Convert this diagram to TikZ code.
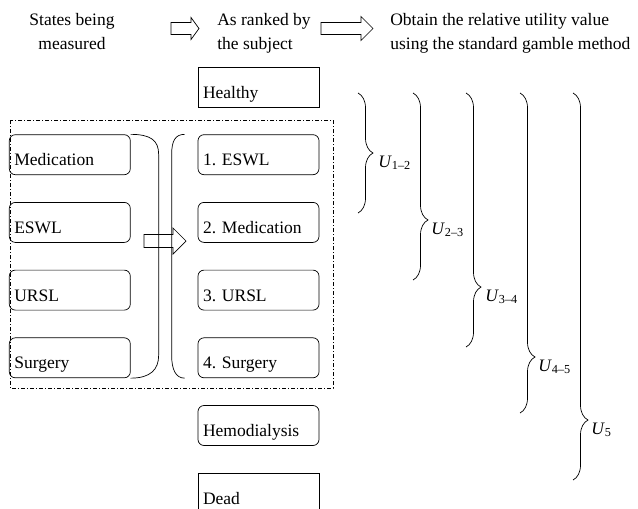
\documentclass[tikz,border=0pt]{standalone}
\usepackage{fontspec}
\setmainfont{Liberation Serif}
\usetikzlibrary{positioning,calc,decorations.pathreplacing}
\frenchspacing
\tikzset{
    statebox/.style={
        draw,
        rounded corners=6pt,
        minimum width=121pt,
        minimum height=40pt,
        text width=111pt,
        inner xsep=5pt,
        inner ysep=0pt,
        text height=31pt,
        text depth=9pt,
        align=left
    },
    endbox/.style={
        statebox,
        sharp corners
    },
    heading/.style={
        inner sep=0pt,
        anchor=north west,
        align=left
    },
    fatarrow/.style={
        draw,
        line join=miter
    },
    utilbrace/.style={
        decorate,
        decoration={brace, amplitude=15pt, aspect=#1}
    },
    ulabel/.style={
        anchor=base west,
        inner sep=0pt
    }
}

\begin{document}
\begin{tikzpicture}[
        x=1pt, y=-1pt,
        font=\fontsize{17.5}{24}\selectfont,
        line width=0.7pt,
        node distance=27pt
    ]
    \useasboundingbox (0,0) rectangle (638,509);

    % headings
    \node[heading, anchor=north, align=center] (measured) at (72,13) {States being\\measured};
    \node[heading] (ranked) at (217,13) {As ranked by\\the subject};
    \node[heading] (gamble) at (390,13) {Obtain the relative utility value\\using the standard gamble method};

    \draw[fatarrow] (171,22.5) -- (191,22.5) -- (191,17.5) -- (199,28.5) -- (191,39.5) -- (191,34.5) -- (171,34.5) -- cycle;
    \draw[fatarrow] (321,22.5) -- (361,22.5) -- (361,16.5) -- (373,28.5) -- (361,40.5) -- (361,34.5) -- (321,34.5) -- cycle;

    % ranked states
    \node[endbox] (healthy) at (258.5,87) {Healthy};
    \node[statebox, below=of healthy] (r1) {1. ESWL};
    \node[statebox, below=of r1] (r2) {2. Medication};
    \node[statebox, below=of r2] (r3) {3. URSL};
    \node[statebox, below=of r3] (r4) {4. Surgery};
    \node[statebox, below=of r4] (hemo) {Hemodialysis};
    \node[endbox, below=of hemo] (dead) {Dead};

    % states being measured
    \node[statebox, left=67pt of r1] (lmed) {Medication};
    \node[statebox, below=of lmed] (leswl) {ESWL};
    \node[statebox, below=of leswl] (lursl) {URSL};
    \node[statebox, below=of lursl] (lsurg) {Surgery};

    \draw[dash pattern=on 4pt off 2pt on 1pt off 2pt, line width=0.5pt] (10,120) rectangle (333,388);

    \draw (lmed.north east) .. controls +(20,0) and +(0,-14) .. ++(28,20) -- ++(0,201)
        .. controls +(0,14) and +(20,0) .. (lsurg.south east);
    \draw ($(r1.north west)+(-13,0)$) .. controls +(-9,0) and +(0,-14) .. ++(-13,20) -- ++(0,201)
        .. controls +(0,14) and +(-9,0) .. ($(r4.south west)+(-13,0)$);

    \draw[fatarrow] (144,234.5) -- (173,234.5) -- (173,228) -- (186,241) -- (173,254) -- (173,247.5) -- (144,247.5) -- cycle;

    % utilities
    \draw[utilbrace=0.5] (358,93) -- (358,213);
    \draw[utilbrace=0.679] (413,93) -- (413,280);
    \draw[utilbrace=0.764] (466,93) -- (466,347);
    \draw[utilbrace=0.825] (520,93) -- (520,413);
    \draw[utilbrace=0.845] (573,93) -- (573,480);

    \node[ulabel] (u12) at (378,167) {\textit{U}\textsubscript{1–2}};
    \node[ulabel] (u23) at (431,234) {\textit{U}\textsubscript{2–3}};
    \node[ulabel] (u34) at (485,301) {\textit{U}\textsubscript{3–4}};
    \node[ulabel] (u45) at (538,371) {\textit{U}\textsubscript{4–5}};
    \node[ulabel] (u5) at (591,434) {\textit{U}\textsubscript{5}};
\end{tikzpicture}
\end{document}
